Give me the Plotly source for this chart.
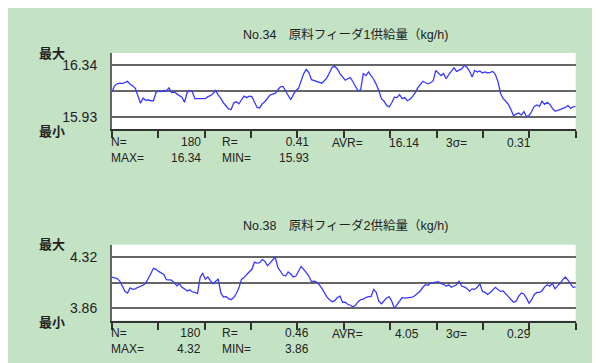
import plotly.graph_objects as go

# ---- data ----
feeder1 = [
    16.131, 16.176, 16.192, 16.197, 16.194, 16.201, 16.213, 16.188, 16.176, 16.156,
    16.102, 16.037, 16.078, 16.061, 16.065, 16.057, 16.057, 16.123, 16.135, 16.131,
    16.139, 16.135, 16.160, 16.123, 16.127, 16.110, 16.098, 16.086, 16.045, 16.123,
    16.139, 16.127, 16.074, 16.074, 16.074, 16.069, 16.074, 16.090, 16.098, 16.115,
    16.139, 16.102, 16.078, 16.041, 16.012, 15.992, 15.987, 16.041, 16.049, 16.033,
    16.065, 16.094, 16.082, 16.094, 16.090, 16.041, 16.004, 16.000, 16.033, 16.049,
    16.074, 16.102, 16.110, 16.115, 16.143, 16.168, 16.172, 16.135, 16.106, 16.065,
    16.106, 16.139, 16.156, 16.217, 16.274, 16.307, 16.283, 16.225, 16.217, 16.209,
    16.201, 16.197, 16.217, 16.242, 16.283, 16.324, 16.332, 16.311, 16.274, 16.250,
    16.221, 16.233, 16.242, 16.209, 16.172, 16.135, 16.147, 16.274, 16.258, 16.287,
    16.258, 16.229, 16.188, 16.139, 16.074, 16.053, 16.020, 16.008, 16.041, 16.086,
    16.082, 16.106, 16.074, 16.082, 16.057, 16.069, 16.090, 16.119, 16.160, 16.192,
    16.213, 16.201, 16.192, 16.201, 16.217, 16.299, 16.279, 16.258, 16.274, 16.233,
    16.266, 16.295, 16.320, 16.291, 16.303, 16.311, 16.340, 16.324, 16.295, 16.246,
    16.299, 16.287, 16.295, 16.279, 16.287, 16.279, 16.283, 16.291, 16.266, 16.209,
    16.115, 16.074, 16.053, 16.028, 15.987, 15.938, 15.951, 15.959, 15.942, 15.971,
    15.930, 15.938, 15.971, 16.012, 16.024, 16.012, 16.053, 16.028, 16.045, 16.028,
    15.996, 15.975, 15.979, 15.987, 15.996, 16.004, 16.020, 15.996, 16.008, 16.012,
]

feeder2 = [
    4.141, 4.131, 4.127, 4.104, 4.062, 4.012, 3.998, 4.044, 4.030, 4.035,
    4.049, 4.058, 4.067, 4.085, 4.136, 4.173, 4.219, 4.210, 4.191, 4.177,
    4.164, 4.118, 4.113, 4.113, 4.090, 4.062, 4.081, 4.049, 4.035, 4.016,
    4.026, 4.007, 4.003, 3.993, 4.136, 4.177, 4.122, 4.141, 4.108, 4.081,
    4.104, 4.122, 3.998, 3.961, 3.966, 3.947, 3.938, 3.957, 3.993, 4.044,
    4.122, 4.136, 4.164, 4.191, 4.210, 4.274, 4.265, 4.269, 4.297, 4.283,
    4.242, 4.265, 4.288, 4.320, 4.228, 4.191, 4.159, 4.150, 4.187, 4.168,
    4.141, 4.150, 4.191, 4.237, 4.210, 4.177, 4.150, 4.099, 4.104, 4.095,
    4.072, 4.039, 3.993, 3.961, 3.938, 3.920, 3.929, 3.957, 3.970, 3.915,
    3.915, 3.897, 3.888, 3.874, 3.888, 3.920, 3.938, 3.943, 3.957, 3.966,
    3.966, 4.030, 4.003, 3.924, 3.901, 3.929, 3.952, 3.966, 3.924, 3.860,
    3.892, 3.929, 3.957, 3.952, 3.957, 3.957, 3.961, 3.975, 3.998, 4.016,
    4.049, 4.072, 4.067, 4.090, 4.090, 4.095, 4.099, 4.081, 4.076, 4.058,
    4.072, 4.049, 4.058, 4.072, 4.104, 4.058, 4.053, 4.039, 4.012, 4.035,
    4.030, 4.049, 4.081, 4.012, 4.003, 3.984, 4.003, 4.030, 4.049, 4.030,
    4.012, 4.016, 3.989, 3.970, 3.938, 3.915, 3.924, 3.970, 3.998, 3.989,
    3.952, 3.906, 3.938, 3.984, 4.003, 4.003, 4.016, 4.053, 4.072, 4.058,
    4.085, 4.035, 4.062, 4.085, 4.118, 4.141, 4.113, 4.085, 4.049, 4.053,
]

titles = ["No.34　原料フィーダ1供給量（kg/h)", "No.38　原料フィーダ2供給量（kg/h)"]
max_labels = ["16.34", "4.32"]
min_labels = ["15.93", "3.86"]
n_labels = ["180", "180"]
r_labels = ["0.41", "0.46"]
avr_labels = ["16.14", "4.05"]
sigma_labels = ["0.31", "0.29"]

# ---- styling / layout ----
W, H = 600, 363
BG = "#c4e2c4"
TXT = "#222222"
FONT = "Liberation Sans, Arial, Noto Sans CJK JP, sans-serif"
LINE = "#3a3aff"

X0, X1 = 104, 567.7
panel_top = [45, 236.7]
panel_h = 76
offsets = [0, 191.5]


def px(x):
    return x / W


def py(y):
    return 1 - y / H


fig = go.Figure()
annotations = []
series = [feeder1, feeder2]

for k, ys in enumerate(series):
    xs = list(range(len(ys)))
    xa = "x" if k == 0 else "x2"
    ya = "y" if k == 0 else "y2"
    fig.add_trace(go.Scatter(x=xs, y=ys, mode="lines", xaxis=xa, yaxis=ya,
                             line=dict(color=LINE, width=1.3), hoverinfo="skip",
                             showlegend=False))
    mx, mn = float(max_labels[k]), float(min_labels[k])
    span = mx - mn
    rng = [mn - 0.24 * span, mx + 0.24 * span]
    top = panel_top[k]
    dom = [py(top + panel_h), py(top)]
    n = len(ys)
    xaxis = dict(domain=[px(X0), px(X1)], range=[0, n - 1], showgrid=False,
                 zeroline=False, showline=True, linecolor="#333333", linewidth=2,
                 ticks="outside", ticklen=7, tickwidth=2, tickcolor="#333333",
                 tickvals=[(n - 1) * j / 10 for j in range(11)],
                 showticklabels=False, anchor=ya, fixedrange=True)
    yaxis = dict(domain=dom, range=rng, zeroline=False, showline=True,
                 linecolor="#666666", linewidth=2, showgrid=True,
                 gridcolor="#666666", gridwidth=2,
                 tickvals=[mn, (mn + mx) / 2, mx],
                 ticktext=[min_labels[k], "", max_labels[k]],
                 tickfont=dict(family=FONT, size=14, color=TXT),
                 ticks="", ticklabelstandoff=10, anchor=xa, fixedrange=True)
    if k == 0:
        fig.update_layout(xaxis=xaxis, yaxis=yaxis)
    else:
        fig.update_layout(xaxis2=xaxis, yaxis2=yaxis)

    o = offsets[k]

    def add(text, x, y, xanchor="left", size=12.5):
        annotations.append(dict(text=text, x=px(x), y=py(y + o), xref="paper",
                                yref="paper", xanchor=xanchor, yanchor="middle",
                                align=xanchor if xanchor != "center" else "center",
                                showarrow=False, borderpad=0,
                                font=dict(family=FONT, size=size, color=TXT)))

    add(titles[k], 337, 26, "center", 12.5)
    add("<b>最大</b>", 30, 45, "left", 13)
    add("<b>最小</b>", 30, 123, "left", 13)
    # two stacked statistic rows, one text block per column
    sy = 141.5
    add("N=<br>MAX=", 102, sy, "left", 12)
    add(n_labels[k] + "<br>" + max_labels[k], 194, sy, "right", 12)
    add("R=<br>MIN=", 213, sy, "left", 12)
    add(r_labels[k] + "<br>" + min_labels[k], 302, sy, "right", 12)
    add("AVR=", 323, 134.5, "left", 12)
    add(avr_labels[k], 412, 134.5, "right", 12)
    add("3σ=", 437, 134.5, "left", 12)
    add(sigma_labels[k], 524, 134.5, "right", 12)

fig.update_layout(width=W, height=H, margin=dict(l=0, r=0, t=0, b=0),
                  paper_bgcolor=BG, plot_bgcolor="white",
                  annotations=annotations, showlegend=False)

fig.write_html("out.html", config={"displayModeBar": False})
